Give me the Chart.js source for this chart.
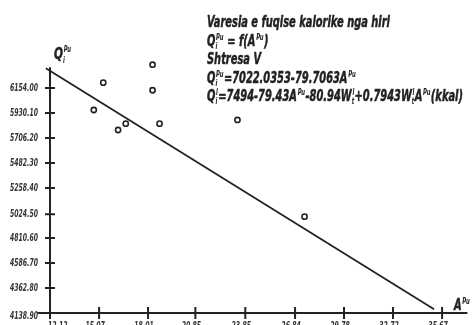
<!DOCTYPE html>
<html><head><meta charset="utf-8">
<script src="https://cdn.jsdelivr.net/npm/chart.js@4/dist/chart.umd.min.js"></script>
<style>html,body{margin:0;padding:0;background:#fff}#wrap{width:473px;height:325px;position:relative}</style>
</head><body><div id="wrap"><canvas id="c" width="473" height="325"></canvas></div>
<script>
// ---- data ----
const ashContent = [18.28, 15.32, 18.28, 14.75, 16.67, 16.21, 18.70, 23.38, 27.41];
const calorificValue = [6363, 6202, 6134, 5957, 5835, 5778, 5835, 5868, 5002];
const fitLineX = [11.87, 35.19];
const fitLineY = [6331, 4172];
const xTickLabels = ['12.12','15.07','18.01','20.85','23.85','26.84','29.78','32.72','35.67'];
const yTickLabels = ['4138.90','4362.80','4586.70','4810.60','5024.50','5258.40','5482.30','5706.20','5930.10','6154.00'];
const titleLines = [
  'Varesia e fuqise kalorike nga hiri',
  'Q{i|Pu} = f(A{|Pu})',
  'Shtresa V',
  'Q{i|Pu}=7022.0353-79.7063A{|Pu}',
  'Q{i|l}=7494-79.43A{|Pu}-80.94W{t|l}+0.7943W{t|l}A{|Pu}(kkal)'
];
const yAxisTitle = 'Q{i|Pu}';
const xAxisTitle = 'A{|Pu}';
const xRange = [12.12, 37.19];
const yRange = [4138.9, 6405];
const yAxisTopValue = 6340;
const xAxisStartValue = 11.35;

// ---- helpers ----
const FONT = '"Liberation Sans Narrow", "DejaVu Sans Condensed", "Liberation Sans", sans-serif';
const INK = '#222';
function parseRich(str) {
  const segs = []; const re = /\{([^|}]*)\|([^}]*)\}/g; let last = 0, m;
  while ((m = re.exec(str))) {
    if (m.index > last) segs.push({t: str.slice(last, m.index)});
    segs.push({sub: m[1], sup: m[2]});
    last = re.lastIndex;
  }
  if (last < str.length) segs.push({t: str.slice(last)});
  return segs;
}
function rich(ctx, str, x, y, size, sx, draw) {
  const segs = parseRich(str);
  const main = `italic bold ${size}px ${FONT}`;
  const small = `italic bold ${Math.round(size * 0.52)}px ${FONT}`;
  ctx.save();
  ctx.translate(x, y); ctx.scale(sx, 1);
  ctx.textBaseline = 'alphabetic'; ctx.textAlign = 'left'; ctx.fillStyle = INK;
  ctx.strokeStyle = INK; ctx.lineWidth = 0.45; ctx.lineJoin = 'round';
  let cx = 0;
  for (const s of segs) {
    if (s.t !== undefined) {
      ctx.font = main; if (draw) { ctx.fillText(s.t, cx, 0); ctx.strokeText(s.t, cx, 0); }
      cx += ctx.measureText(s.t).width;
    } else {
      ctx.font = small; let w = 0;
      if (s.sup) { if (draw) ctx.fillText(s.sup, cx + 1, -size * 0.42); w = Math.max(w, ctx.measureText(s.sup).width + 1); }
      if (s.sub) { if (draw) ctx.fillText(s.sub, cx, size * 0.22); w = Math.max(w, ctx.measureText(s.sub).width); }
      cx += w + 0.5;
    }
  }
  ctx.restore();
  return cx * sx;
}

const axesPlugin = {
  id: 'axesPlugin',
  beforeDatasetsDraw(chart) {
    const ctx = chart.ctx, xs = chart.scales.x, ys = chart.scales.y;
    const x0 = xs.getPixelForValue(xRange[0]);
    const yb = ys.getPixelForValue(yRange[0]);
    ctx.save();
    ctx.strokeStyle = INK; ctx.lineWidth = 2; ctx.lineCap = 'butt';
    ctx.beginPath();
    ctx.moveTo(xs.getPixelForValue(xAxisStartValue), yb); ctx.lineTo(xs.getPixelForValue(xRange[1]), yb);
    ctx.moveTo(x0, ys.getPixelForValue(yAxisTopValue)); ctx.lineTo(x0, yb + 5);
    yTickLabels.forEach(l => { const y = ys.getPixelForValue(parseFloat(l)); ctx.moveTo(x0 - 5, y); ctx.lineTo(x0 + 5, y); });
    xTickLabels.forEach(l => { const x = xs.getPixelForValue(parseFloat(l)); ctx.moveTo(x, yb - 6); ctx.lineTo(x, yb + 6); });
    ctx.stroke();
    // tick labels
    ctx.fillStyle = '#333';
    ctx.font = `italic bold 10px ${FONT}`;
    const sxl = 28 / ctx.measureText('5930.10').width;
    ctx.textBaseline = 'middle'; ctx.textAlign = 'right';
    yTickLabels.forEach((l, i) => {
      const y = ys.getPixelForValue(parseFloat(l)) + (i === 0 ? 3 : 0);
      ctx.save(); ctx.translate(38, y); ctx.scale(sxl, 1); ctx.fillText(l, 0, 0); ctx.restore();
    });
    ctx.textBaseline = 'top';
    xTickLabels.forEach((l, i) => {
      const x = xs.getPixelForValue(parseFloat(l));
      ctx.save();
      if (i === 0) { ctx.textAlign = 'left'; ctx.translate(x - 2, yb + 8); }
      else { ctx.textAlign = 'center'; ctx.translate(x - 4, yb + 8); }
      ctx.scale(sxl, 1); ctx.fillText(l, 0, 0); ctx.restore();
    });
    ctx.restore();
  },
  afterDraw(chart) {
    const ctx = chart.ctx;
    const size = 15;
    const w1 = rich(ctx, titleLines[0], 0, 0, size, 1, false);
    const sx = 183 / w1;
    const baselines = [27, 46, 64, 83, 101];
    titleLines.forEach((t, i) => rich(ctx, t, 207, baselines[i], size, sx, true));
    rich(ctx, yAxisTitle, 54, 59, 16, sx, true);
    rich(ctx, xAxisTitle, 454, 310, 15, sx, true);
  }
};

new Chart(document.getElementById('c'), {
  type: 'scatter',
  data: {
    datasets: [
      {
        label: 'Fit',
        type: 'line',
        data: fitLineX.map((x, i) => ({x, y: fitLineY[i]})),
        borderColor: INK, borderWidth: 1.8, pointRadius: 0, fill: false, clip: false, order: 2
      },
      {
        label: 'Samples',
        data: ashContent.map((x, i) => ({x, y: calorificValue[i]})),
        pointRadius: 2.6, pointBorderWidth: 1.6, pointBackgroundColor: '#fff', pointBorderColor: INK,
        clip: false, order: 1
      }
    ]
  },
  options: {
    responsive: false, devicePixelRatio: 1, animation: false,
    layout: { padding: { left: 50, right: 0, top: 60, bottom: 12 } },
    plugins: { legend: { display: false }, tooltip: { enabled: false } },
    scales: {
      x: { type: 'linear', display: false, min: xRange[0], max: xRange[1] },
      y: { type: 'linear', display: false, min: yRange[0], max: yRange[1] }
    }
  },
  plugins: [axesPlugin]
});
</script>
</body></html>
